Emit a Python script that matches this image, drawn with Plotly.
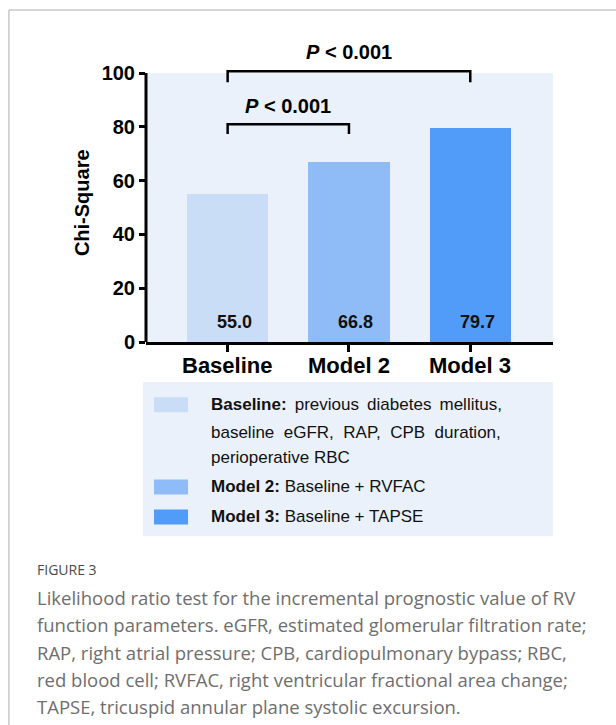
import plotly.graph_objects as go

# ---- data ----
categories = ["Baseline", "Model 2", "Model 3"]
chi_square = [55.0, 66.8, 79.7]
bar_colors = ["#c9ddf7", "#8fbcf7", "#519bf9"]
y_ticks = [0, 20, 40, 60, 80, 100]
comparisons = [  # (from index, to index, label)
    (0, 2, "P < 0.001"),
    (0, 1, "P < 0.001"),
]
TS = "\u2009"  # thin space used to justify legend text
legend_lines = [
    f"<b>Baseline:</b> {TS}previous {TS}diabetes {TS}mellitus,",
    "baseline &nbsp;eGFR, &nbsp;RAP, &nbsp;CPB &nbsp;duration,",
    "perioperative RBC",
    "<b>Model 2:</b> Baseline + RVFAC",
    "<b>Model 3:</b> Baseline + TAPSE",
]
caption_title = "FIGURE 3"
caption_lines = [
    "Likelihood ratio test for the incremental prognostic value of RV",
    "function parameters. eGFR, estimated glomerular filtration rate;",
    "RAP, right atrial pressure; CPB, cardiopulmonary bypass; RBC,",
    "red blood cell; RVFAC, right ventricular fractional area change;",
    "TAPSE, tricuspid annular plane systolic excursion.",
]

# ---- layout geometry (pixels) ----
W, H = 616, 725
PL, PR, PT, PB = 146, 552.7, 40, 341.7
YMAX = (PB - PT) / ((PB - 73.0) / 100.0)


def px(x):
    return (x - PL) / (PR - PL)


def py(y):
    return (PB - y) / (PB - PT)


FONT = "Liberation Sans, Arial, sans-serif"
BG = "#eaf1fa"

fig = go.Figure()
fig.add_trace(go.Bar(
    x=list(range(len(categories))), y=chi_square,
    marker=dict(color=bar_colors, line=dict(width=0)),
    width=0.67, showlegend=False, hoverinfo="skip",
))

shapes = []
annotations = []

# plot background only up to 100
shapes.append(dict(type="rect", xref="paper", yref="y", x0=0, x1=1, y0=0, y1=100,
                   fillcolor=BG, line=dict(width=0), layer="below"))
# y axis line up to 100
shapes.append(dict(type="line", xref="paper", yref="y", x0=0, x1=0, y0=0, y1=100,
                   line=dict(color="black", width=3)))

# comparison brackets
bracket_levels = [(100.7, 96.6, 107.8), (81.0, 77.3, 87.9)]
for (i0, i1, lab), (ytop, ybot, ytxt) in zip(comparisons, bracket_levels):
    shapes.append(dict(type="path", xref="x", yref="y",
                       path=f"M {i0},{ybot} L {i0},{ytop} L {i1},{ytop} L {i1},{ybot}",
                       line=dict(color="black", width=2.5)))
    annotations.append(dict(x=(i0 + i1) / 2, y=ytxt, xref="x", yref="y",
                            text="<b><i>P</i> &lt; 0.001</b>", showarrow=False,
                            font=dict(family=FONT, size=20, color="black"),
                            xanchor="center", yanchor="middle"))

# value labels inside bars
for i, v in enumerate(chi_square):
    annotations.append(dict(x=i, y=7.5, xref="x", yref="y", xshift=7,
                            text=f"<b>{v:.1f}</b>", showarrow=False,
                            font=dict(family=FONT, size=18, color="#111111"),
                            xanchor="center", yanchor="middle"))

# category labels (placed like tick labels)
for i, c in enumerate(categories):
    annotations.append(dict(x=i, y=py(365.5), xref="x", yref="paper",
                            text=f"<b>{c}</b>", showarrow=False,
                            font=dict(family=FONT, size=22, color="black"),
                            xanchor="center", yanchor="middle"))

# y axis title
annotations.append(dict(x=px(82), y=52, xref="paper", yref="y", text="<b>Chi-Square</b>",
                        textangle=-90, showarrow=False,
                        font=dict(family=FONT, size=20, color="black"),
                        xanchor="center", yanchor="middle"))

# legend box
shapes.append(dict(type="rect", xref="paper", yref="paper", x0=px(143), x1=px(552.7),
                   y0=py(535.7), y1=py(381.7), fillcolor=BG, line=dict(width=0)))
swatch_rows = [(397, 412, 0), (479, 494, 1), (509, 524, 2)]
for y0, y1, ci in swatch_rows:
    shapes.append(dict(type="rect", xref="paper", yref="paper", x0=px(154), x1=px(188),
                       y0=py(y1), y1=py(y0), fillcolor=bar_colors[ci], line=dict(width=0)))
legend_y = [404.5, 432.5, 457, 486.5, 516.5]
for txt, ly in zip(legend_lines, legend_y):
    annotations.append(dict(x=px(209), y=py(ly), xref="paper", yref="paper", text=txt,
                            showarrow=False, xanchor="left", yanchor="middle",
                            font=dict(family=FONT, size=17, color="#111111")))

# outer frame
shapes.append(dict(type="line", xref="paper", yref="paper", x0=px(9), x1=px(620),
                   y0=py(10), y1=py(10), line=dict(color="#c8c8c8", width=1.5)))
shapes.append(dict(type="line", xref="paper", yref="paper", x0=px(9), x1=px(9),
                   y0=py(10), y1=py(730), line=dict(color="#c8c8c8", width=1.5)))

# caption
CAP_FONT = "Open Sans, Lato, sans-serif"
annotations.append(dict(x=px(35), y=py(569), xref="paper", yref="paper", text=caption_title,
                        showarrow=False, xanchor="left", yanchor="middle",
                        font=dict(family=CAP_FONT, size=14, color="#4a4a4a")))
for k, line in enumerate(caption_lines):
    annotations.append(dict(x=px(35), y=py(597 + 27.2 * k), xref="paper", yref="paper",
                            text=line, showarrow=False, xanchor="left", yanchor="middle",
                            font=dict(family=CAP_FONT, size=18.5, color="#6e6e6e")))

fig.update_layout(
    width=W, height=H,
    margin=dict(l=PL, r=W - PR, t=PT, b=H - PB, pad=0),
    paper_bgcolor="white", plot_bgcolor="white",
    bargap=0,
    shapes=shapes, annotations=annotations,
    xaxis=dict(range=[-0.673, 2.682], tickvals=list(range(len(categories))),
               showticklabels=False,
               ticks="outside", ticklen=7, tickwidth=3, tickcolor="black",
               showline=True, linecolor="black", linewidth=3,
               showgrid=False, zeroline=False),
    yaxis=dict(range=[0, YMAX], tickvals=y_ticks,
               ticktext=[f"<b>{t}</b>" for t in y_ticks],
               ticks="outside", ticklen=6, tickwidth=3, tickcolor="black",
               showline=False, showgrid=False, zeroline=False,
               tickfont=dict(family=FONT, size=20, color="black")),
    font=dict(family=FONT),
)

fig.write_html("out.html", config={"displayModeBar": False},
               post_script="document.body.style.margin='0';document.body.style.overflow='hidden';")
